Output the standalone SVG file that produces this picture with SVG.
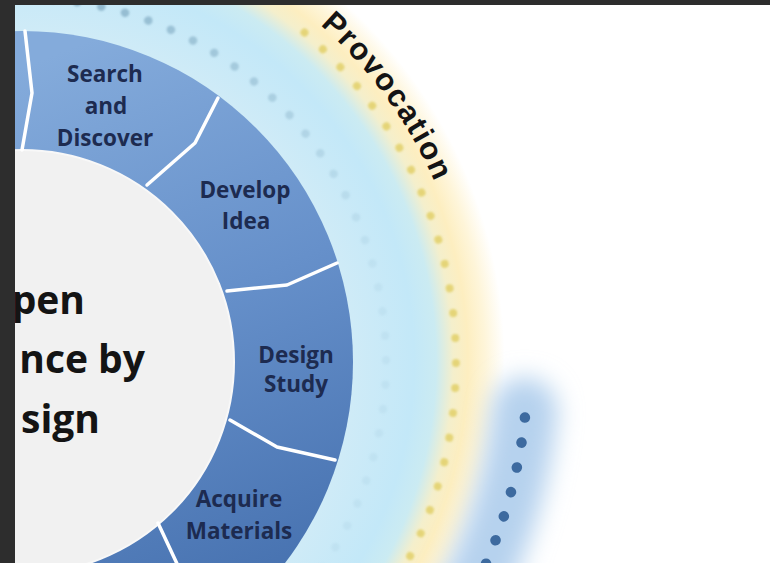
<svg xmlns="http://www.w3.org/2000/svg" width="770" height="563" viewBox="0 0 770 563">
  <style>
    .lbl { font-family: "Open Sans", "Liberation Sans", sans-serif; font-weight: 700; font-size: 22.5px; fill: #1d2b50; text-anchor: middle; }
    .big { font-family: "Open Sans", "Liberation Sans", sans-serif; font-weight: 700; font-size: 39px; fill: #141414; text-anchor: end; }
    .div { fill: none; stroke: #ffffff; stroke-width: 3.5; stroke-linejoin: round; stroke-linecap: round; }
    .prov { font-family: "Liberation Sans", Arial, sans-serif; font-weight: 700; font-size: 31px; fill: #141414; letter-spacing: 1.6px; }
  </style>
  <defs>
    <filter id="blurBig" filterUnits="userSpaceOnUse" x="0" y="0" width="770" height="563">
      <feGaussianBlur stdDeviation="12"/>
    </filter>
    <filter id="blurSmall" filterUnits="userSpaceOnUse" x="0" y="0" width="770" height="563">
      <feGaussianBlur stdDeviation="1.3"/>
    </filter>
    <radialGradient id="skyGrad" gradientUnits="userSpaceOnUse" cx="22" cy="362" r="490">
      <stop offset="0.675" stop-color="#cfebf7"/>
      <stop offset="0.80" stop-color="#c3e8f8"/>
      <stop offset="0.845" stop-color="#cbebf2"/>
      <stop offset="0.88" stop-color="#f4efcc"/>
      <stop offset="0.91" stop-color="#fdeec0"/>
      <stop offset="0.945" stop-color="#fef5d9"/>
      <stop offset="0.985" stop-color="#ffffff"/>
      <stop offset="1" stop-color="#ffffff"/>
    </radialGradient>
    <linearGradient id="ringGrad" gradientUnits="userSpaceOnUse" x1="90" y1="40" x2="300" y2="560">
      <stop offset="0" stop-color="#84abdb"/>
      <stop offset="0.5" stop-color="#6690ca"/>
      <stop offset="1" stop-color="#4873b1"/>
    </linearGradient>
    <linearGradient id="dotGrad" gradientUnits="userSpaceOnUse" x1="0" y1="0" x2="420" y2="300">
      <stop offset="0" stop-color="#7faac2" stop-opacity="0.9"/>
      <stop offset="0.5" stop-color="#8db5cb" stop-opacity="0.55"/>
      <stop offset="0.9" stop-color="#9cc4d8" stop-opacity="0.2"/>
    </linearGradient>
    <path id="provPath" d="M 320.2 24.9 A 450 450 0 0 1 470.3 322.8"/>
  </defs>

  <rect x="0" y="0" width="770" height="563" fill="#ffffff"/>

  <g id="background">
    <circle cx="22" cy="362" r="490" fill="url(#skyGrad)"/>
    <path d="M 524.7 410.4 A 505 505 0 0 1 408.8 686.6" fill="none" stroke="#b6d2ee" stroke-width="66" stroke-linecap="round" filter="url(#blurBig)"/>
  </g>

  <g id="dot-rings">
    <path d="M 28.4 -2 A 364 364 0 0 1 300.8 596" fill="none" stroke="url(#dotGrad)" stroke-width="8.5" stroke-linecap="round" stroke-dasharray="0.1 24.4" filter="url(#blurSmall)"/>
    <path d="M 304.4 32.5 A 434 434 0 0 1 377.5 610.9" fill="none" stroke="#e2d06a" stroke-width="8" stroke-linecap="round" stroke-dasharray="0.1 24.9" opacity="0.85" filter="url(#blurSmall)"/>
    <path d="M 524.9 417.5 A 506 506 0 0 1 436.5 652.2" fill="none" stroke="#3d6a9f" stroke-width="10.5" stroke-linecap="round" stroke-dasharray="0.1 25.2"/>
  </g>

  <g id="ring">
    <circle cx="22" cy="362" r="331" fill="url(#ringGrad)"/>
  </g>

  <g id="center">
    <circle cx="22" cy="362" r="212" fill="#f1f1f1" stroke="#f8f8f8" stroke-width="2"/>
    <text class="big" x="85" y="314">pen</text>
    <text class="big" x="145" y="373">nce by</text>
    <text class="big" x="100" y="433">sign</text>
  </g>

  <g id="connectors">
    <polyline class="div" points="22,150 32,93 25,31"/>
    <polyline class="div" points="147,185 195,143 218,98"/>
    <polyline class="div" points="227,291 287,285 337,263"/>
    <polyline class="div" points="230,420 277,447 335,460"/>
    <polyline class="div" points="158,523 184.6,580 229,620"/>
  </g>

  <g id="search-discover">
    <text class="lbl" x="105" y="82">Search</text>
    <text class="lbl" x="106" y="114">and</text>
    <text class="lbl" x="105" y="146">Discover</text>
  </g>
  <g id="develop-idea">
    <text class="lbl" x="245" y="198">Develop</text>
    <text class="lbl" x="246" y="229">Idea</text>
  </g>
  <g id="design-study">
    <text class="lbl" x="296" y="363">Design</text>
    <text class="lbl" x="296" y="392">Study</text>
  </g>
  <g id="acquire-materials">
    <text class="lbl" x="239" y="507">Acquire</text>
    <text class="lbl" x="239" y="539">Materials</text>
  </g>

  <g id="provocation">
    <text class="prov"><textPath href="#provPath">Provocation</textPath></text>
  </g>

  <g id="frame">
    <rect x="0" y="0" width="770" height="5" fill="#2d2d2d"/>
    <rect x="0" y="0" width="15" height="563" fill="#2d2d2d"/>
  </g>
</svg>
